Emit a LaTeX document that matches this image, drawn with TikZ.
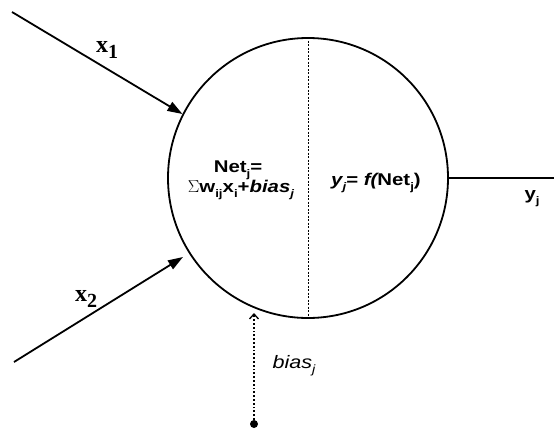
\documentclass[tikz,border=0pt]{standalone}
\usepackage{fontspec}
\setmainfont{Liberation Serif}
\newfontfamily\ars[FakeStretch=1.2]{Liberation Sans}
\newfontfamily\tms{Liberation Serif}
\usetikzlibrary{arrows.meta}
\newcommand\dn[2][11]{\raisebox{-5pt}{\fontsize{#1}{#1}\selectfont #2}}
\begin{document}
\begin{tikzpicture}[x=1pt,y=-1pt,
  neuron/.style={circle,draw,line width=1.8pt,minimum size=280pt,inner sep=0pt},
  inarrow/.style={line width=1.8pt,-{Triangle[length=15pt,width=10pt]}},
  biasarrow/.style={line width=1.8pt,dotted,-{Straight Barb[length=5pt,width=9pt,line width=1.3pt]}},
  divider/.style={line width=0.8pt,dash pattern=on 2pt off 1.5pt},
  sanslbl/.style={inner sep=0pt,anchor=base,font=\ars\fontsize{17}{19}\selectfont},
  seriflbl/.style={inner sep=0pt,anchor=base,font=\tms\bfseries\fontsize{24}{26}\selectfont}]
\useasboundingbox (0,0) rectangle (554,429);
\node[neuron] (n) at (308,178) {};
\draw[divider] (n.north) -- (n.south);
% inputs
\coordinate (s1) at (12,12);
\coordinate (s2) at (14,362);
\coordinate (t2) at (183,257);
\draw[inarrow] (s1) -- (n.153.4);
\draw[inarrow] (s2) -- (t2);
\node[seriflbl] (x1) at (107,52) {x\raisebox{-6pt}{\fontsize{20}{20}\selectfont 1}};
\node[seriflbl] (x2) at (86,301) {x\raisebox{-6pt}{\fontsize{20}{20}\selectfont 2}};
% output
\coordinate (o) at (554,178);
\draw[line width=1.8pt] (n.east) -- (o);
\node[sanslbl] (yl) at (532,199) {\bfseries y\dn{j}};
% bias
\node[circle,fill,inner sep=0pt,minimum size=8pt] (b) at (254,424) {};
\coordinate (bt) at (254,313);
\draw[biasarrow] (b) -- (bt);
\node[sanslbl] (bl) at (294,368) {\itshape\fontsize{18}{20}\selectfont bias\dn[12]{j}};
% texts
\node[sanslbl] (net) at (238,172) {\bfseries Net\dn{j}=};
\node[sanslbl] (sum) at (241,192) {$\Sigma$\bfseries w\dn{ij}x\dn{i}+\itshape bias\dn{j}};
\node[sanslbl] (f) at (376,185) {\bfseries\itshape y\dn{j}\upshape = \itshape f(\upshape Net\dn{j})};
\end{tikzpicture}
\end{document}
